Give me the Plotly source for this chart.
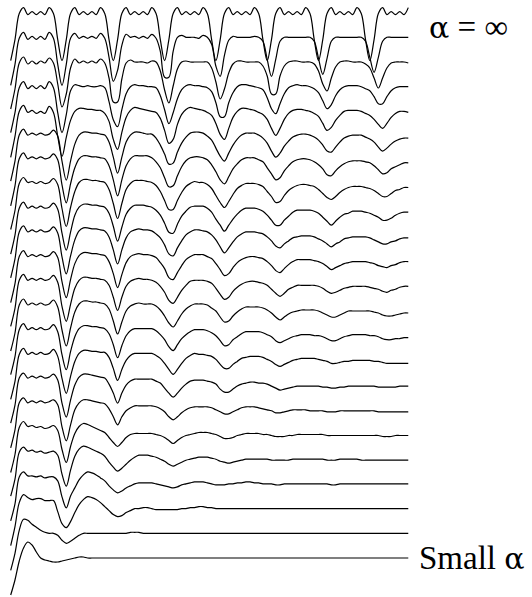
import plotly.graph_objects as go

# sample index: 12 samples per repetition period, 7.75 periods
sample_index = list(range(94))

# signal values (px-like units, positive = up) for each curve, top (alpha = inf) to bottom (small alpha)
curve_00 = [-46,-25,1,7,0,3,0,3,0,7,1,-25,
            -46,-25,1,7,0,3,0,3,0,7,1,-25,
            -46,-25,1,7,0,3,0,3,0,7,1,-25,
            -46,-25,1,7,0,3,0,3,0,7,1,-25,
            -46,-25,1,7,0,3,0,3,0,7,1,-25,
            -46,-25,1,7,0,3,0,3,0,7,1,-25,
            -46,-25,1,7,0,3,0,3,0,7,1,-25,
            -46,-25,1,7,0,3,0,3,0,7]
curve_01 = [-46,-25,1,7,0,3,0,3,0,7,1,-25,
            -46,-25,1,6,1,3,1,3,1,6,1,-18,
            -42,-31,-6,5,2,3,1,3,1,5,1,-12,
            -38,-38,-12,2,4,2,2,2,1,4,2,-5,
            -27,-37,-16,-1,3,2,2,2,2,3,2,-2,
            -20,-37,-20,-2,2,2,2,2,2,2,2,-2,
            -19,-35,-19,-2,2,2,2,2,2,2,2,-2,
            -18,-33,-18,-2,2,2,2,2,2,2]
curve_02 = [-45,-25,1,7,0,3,0,3,1,6,1,-20,
            -43,-30,-4,5,1,3,1,3,1,5,1,-14,
            -38,-38,-15,1,4,2,2,2,1,3,2,-7,
            -26,-39,-22,-5,2,3,2,2,2,2,2,-4,
            -18,-35,-25,-9,0,3,3,2,2,2,2,-2,
            -12,-30,-30,-12,-2,2,3,3,2,2,2,0,
            -7,-20,-27,-14,-3,2,3,3,2,2,2,0,
            -4,-14,-24,-14,-4,1,2,2,2,1]
curve_03 = [-44,-24,1,7,0,3,0,3,0,7,1,-24,
            -44,-26,-2,4,3,2,3,2,2,3,1,-13,
            -31,-38,-21,-5,2,4,3,3,2,2,1,-7,
            -21,-35,-24,-10,-1,3,4,3,3,2,1,-3,
            -14,-28,-28,-14,-4,2,4,4,3,2,1,-1,
            -9,-20,-25,-15,-5,1,3,4,3,3,2,0,
            -4,-12,-20,-16,-7,-1,2,3,3,3,2,0,
            -2,-8,-15,-15,-8,-2,1,2,2,2]
curve_04 = [-44,-23,2,8,1,3,0,2,0,7,1,-23,
            -43,-24,-7,2,5,5,4,4,3,3,0,-8,
            -26,-36,-19,-4,3,6,5,4,3,2,1,-5,
            -17,-30,-26,-11,-1,4,6,5,4,3,1,-2,
            -10,-21,-26,-15,-4,2,5,5,4,3,1,-1,
            -6,-15,-22,-15,-6,0,3,4,4,3,2,0,
            -3,-10,-17,-14,-7,-2,2,3,3,3,2,0,
            -2,-6,-11,-15,-10,-4,0,2,2,1]
curve_05 = [-43,-23,3,9,3,5,3,5,3,4,8,2,
            -23,-42,-23,-6,3,6,6,5,5,4,3,-4,
            -19,-35,-19,-4,3,6,6,5,4,4,0,-7,
            -16,-26,-25,-14,-5,1,5,6,6,5,2,-2,
            -10,-18,-23,-15,-7,-1,3,5,5,5,3,0,
            -5,-13,-19,-15,-8,-3,1,3,4,4,3,1,
            -2,-7,-13,-14,-9,-4,0,2,3,3,3,1,
            -1,-4,-9,-13,-10,-6,-3,-1,0,0]
curve_06 = [-43,-23,4,10,4,6,4,6,4,5,9,3,
            -22,-40,-21,-5,4,7,7,6,6,5,4,-3,
            -17,-33,-17,-3,4,7,7,7,7,5,1,-5,
            -15,-24,-23,-13,-4,2,5,6,6,5,3,-2,
            -9,-17,-21,-14,-6,-1,3,5,5,5,3,1,
            -5,-11,-17,-15,-8,-3,1,3,4,4,3,1,
            -2,-6,-12,-13,-8,-4,-1,1,2,2,2,1,
            0,-3,-7,-11,-10,-6,-4,-2,0,0]
curve_07 = [-42,-23,4,10,5,6,4,6,4,5,9,3,
            -21,-39,-20,-4,5,8,8,7,7,6,5,-2,
            -16,-31,-16,-2,4,7,7,7,6,5,2,-4,
            -13,-22,-22,-13,-5,1,4,6,5,5,3,-1,
            -8,-15,-20,-14,-7,-1,2,4,4,4,3,1,
            -4,-9,-15,-14,-8,-3,0,2,3,3,2,1,
            -2,-6,-10,-12,-9,-5,-2,0,1,1,1,0,
            -1,-3,-6,-9,-9,-6,-3,-2,0,0]
curve_08 = [-42,-23,4,10,4,6,4,6,4,5,9,3,
            -21,-38,-20,-3,5,8,8,7,7,6,5,-1,
            -14,-29,-15,-2,4,7,7,7,6,5,2,-3,
            -11,-20,-21,-12,-4,1,5,6,6,6,4,0,
            -7,-13,-19,-13,-7,-2,2,4,4,4,3,1,
            -3,-8,-13,-13,-8,-4,0,2,2,2,2,1,
            -1,-5,-9,-13,-9,-5,-2,-1,1,1,1,0,
            -1,-3,-5,-8,-8,-6,-3,-1,0,0]
curve_09 = [-41,-22,5,11,5,7,5,7,5,6,10,4,
            -20,-37,-19,-3,6,9,9,8,8,7,6,0,
            -13,-27,-13,-1,5,7,8,7,7,6,3,-1,
            -8,-17,-19,-11,-4,2,5,7,7,6,5,2,
            -3,-10,-16,-11,-5,0,3,5,5,5,4,3,
            0,-4,-9,-11,-7,-4,-1,0,1,1,1,0,
            -2,-4,-7,-10,-7,-5,-2,-1,0,0,0,0,
            -1,-3,-5,-7,-7,-5,-4,-2,-1,-1]
curve_10 = [-41,-22,5,11,5,7,5,7,5,6,10,4,
            -20,-36,-18,-2,6,9,9,8,8,7,6,0,
            -12,-26,-13,-1,5,7,8,7,7,6,4,-1,
            -7,-16,-18,-11,-4,2,5,7,7,7,5,3,
            -2,-8,-14,-12,-6,-1,2,4,5,5,4,3,
            0,-4,-9,-11,-7,-3,0,2,2,2,2,1,
            0,-2,-5,-8,-6,-4,-2,-1,0,0,0,0,
            -1,-2,-4,-5,-6,-4,-3,-1,0,0]
curve_11 = [-40,-22,6,12,6,8,6,8,6,7,11,4,
            -20,-35,-18,-2,6,9,9,8,8,7,6,1,
            -11,-24,-11,0,5,7,8,7,7,6,4,0,
            -6,-14,-17,-11,-4,1,5,6,6,6,5,3,
            -2,-8,-13,-11,-5,-1,2,4,5,5,4,3,
            1,-3,-7,-10,-7,-3,-1,1,1,1,1,1,
            0,-2,-5,-7,-6,-4,-2,-1,0,0,0,0,
            -1,-2,-3,-5,-6,-4,-3,-1,0,0]
curve_12 = [-40,-22,6,12,6,8,6,8,6,7,11,4,
            -19,-35,-17,-1,7,10,10,9,9,8,7,2,
            -10,-23,-11,0,5,7,8,7,7,7,5,1,
            -5,-12,-16,-10,-3,2,5,7,7,7,6,3,
            0,-6,-11,-10,-5,-1,2,4,4,4,4,3,
            1,-2,-6,-9,-6,-3,-1,0,1,1,1,1,
            0,-2,-4,-6,-6,-4,-2,0,0,0,0,0,
            0,-1,-2,-4,-5,-5,-4,-3,-2,-2]
curve_13 = [-39,-21,6,12,6,8,6,8,6,7,11,4,
            -19,-34,-16,-1,7,10,10,9,9,8,7,2,
            -9,-22,-10,0,5,7,7,7,7,7,5,1,
            -4,-11,-15,-9,-3,1,4,6,6,6,5,3,
            0,-5,-10,-9,-4,-1,2,4,4,4,4,3,
            1,-1,-5,-7,-5,-3,-1,0,1,1,1,0,
            0,-1,-3,-5,-5,-3,-1,0,1,1,1,1,
            0,0,-1,-3,-4,-4,-3,-3,-2,-2]
curve_14 = [-39,-21,6,12,6,8,6,8,6,7,11,4,
            -18,-33,-16,-1,7,10,10,9,9,8,8,3,
            -8,-20,-9,0,5,7,7,7,7,7,5,2,
            -3,-9,-14,-9,-3,2,5,7,6,6,5,4,
            1,-4,-8,-8,-4,-1,2,3,4,4,4,3,
            1,-1,-4,-6,-4,-2,0,1,2,2,2,2,
            1,0,-1,-3,-3,-2,-1,-1,0,0,0,0,
            0,-1,-1,-2,-3,-3,-3,-3,-3,-3]
curve_15 = [-38,-20,7,12,7,9,7,9,7,8,11,5,
            -18,-32,-15,0,8,11,11,10,9,8,7,1,
            -8,-18,-8,0,4,6,6,6,6,6,4,2,
            -3,-8,-12,-8,-3,1,4,5,5,5,4,3,
            1,-4,-7,-7,-4,-1,1,2,3,3,2,2,
            1,-1,-3,-5,-4,-3,-2,-1,-1,-1,-1,-1,
            -1,-2,-2,-3,-3,-2,-2,-1,-1,-1,-1,-1,
            -1,-1,-2,-2,-2,-2,-2,-1,-1,-1]
curve_16 = [-38,-20,7,12,7,9,7,9,7,8,10,5,
            -17,-31,-15,0,7,10,10,9,8,7,6,1,
            -7,-15,-7,-1,2,4,4,4,4,4,3,1,
            -2,-7,-10,-7,-3,0,2,3,3,3,3,2,
            0,-2,-4,-4,-2,0,2,3,3,3,2,1,
            0,-1,-3,-3,-2,-1,0,0,0,0,-1,-1,
            -1,-1,-2,-2,-2,-1,-1,-1,-1,-1,-1,-1,
            -1,-1,-2,-2,-2,-2,-2,-2,-2,-2]
curve_17 = [-38,-20,7,13,8,9,7,8,6,7,9,4,
            -15,-28,-12,1,8,11,10,8,6,4,2,-3,
            -8,-12,-8,-3,0,1,1,1,1,1,0,-1,
            -3,-6,-9,-6,-3,-1,0,1,2,2,2,1,
            0,-2,-4,-4,-3,-1,0,1,1,1,1,0,
            0,-1,-2,-2,-2,-1,-1,0,0,0,0,0,
            0,0,-1,-1,-1,-1,-1,-1,-1,-1,-1,-1,
            -1,-1,-1,-2,-2,-2,-1,-1,-1,-1]
curve_18 = [-37,-20,7,12,8,9,7,8,6,7,8,4,
            -15,-27,-11,3,10,13,12,10,8,6,3,-3,
            -8,-12,-9,-5,-1,2,4,4,4,3,2,0,
            -2,-5,-7,-5,-3,-1,0,1,2,2,2,1,
            0,-2,-3,-4,-3,-2,-1,0,0,0,0,0,
            0,-1,-1,-1,-1,-1,0,0,0,0,0,0,
            0,0,-1,-1,-1,0,0,0,0,0,-1,-1,
            -1,-1,-1,-1,-1,-1,-1,-1,-1,-1]
curve_19 = [-37,-20,7,12,8,8,7,8,6,7,7,3,
            -13,-24,-12,-4,4,9,12,11,9,6,3,-2,
            -6,-9,-7,-4,-2,0,1,1,1,1,0,-1,
            -2,-3,-4,-3,-1,0,1,2,2,2,1,0,
            -1,-1,-1,0,0,1,1,2,2,1,1,0,
            0,0,-1,-1,0,0,0,0,0,0,0,0,
            0,0,0,-1,-1,0,0,0,0,0,0,0,
            0,0,0,0,0,0,0,0,0,0]
curve_20 = [-37,-18,6,14,11,9,10,10,8,8,8,-3,
            -15,-19,-13,-4,4,9,12,11,9,6,2,-2,
            -6,-8,-7,-4,-2,0,0,1,1,0,-1,-1,
            -1,-1,-1,-1,0,0,1,1,2,2,1,1,
            0,0,0,0,0,0,0,0,0,0,0,0,
            0,0,0,0,0,0,0,0,0,0,0,0,
            0,0,0,0,0,0,0,0,0,0,0,0,
            0,0,0,0,0,0,0,0,0,0]
curve_21 = [-37,-20,3,14,13,9,6,3,1,0,0,-2,
            -7,-10,-8,-5,-2,0,0,0,0,0,0,0,
            0,0,0,0,1,1,1,0,0,0,0,0,
            0,0,0,0,0,0,0,0,0,0,0,0,
            0,0,0,0,0,0,0,0,0,0,0,0,
            0,0,0,0,0,0,0,0,0,0,0,0,
            0,0,0,0,0,0,0,0,0,0,0,0,
            0,0,0,0,0,0,0,0,0,0]
curve_22 = [-37,-22,-3,10,16,13,6,0,-2,-3,-4,-4,
            -3,-2,-1,0,1,1,0,0,0,0,0,0,
            0,0,0,0,0,0,0,0,0,0,0,0,
            0,0,0,0,0,0,0,0,0,0,0,0,
            0,0,0,0,0,0,0,0,0,0,0,0,
            0,0,0,0,0,0,0,0,0,0,0,0,
            0,0,0,0,0,0,0,0,0,0,0,0,
            0,0,0,0,0,0,0,0,0,0]

curves = [curve_00, curve_01, curve_02, curve_03, curve_04, curve_05, curve_06,
          curve_07, curve_08, curve_09, curve_10, curve_11, curve_12, curve_13,
          curve_14, curve_15, curve_16, curve_17, curve_18, curve_19, curve_20,
          curve_21, curve_22]

# label texts
alpha_sym = "α"
label_top_rest = " = ∞"
label_bottom_word = "Small "

# layout / style
W, H = 532, 597
curve_step = 24.7          # vertical offset between successive curves
bottom_offset = 39         # offset of the lowest curve
x_start_px, samples_px = 10.7, 51.3 / 12

bad = [i for i, c in enumerate(curves) if len(c) != len(sample_index)]
if bad:
    raise ValueError("length mismatch: %s" % [(i, len(curves[i])) for i in bad])

fig = go.Figure()
n = len(curves)
for k, vals in enumerate(curves):
    off = bottom_offset + curve_step * (n - 1 - k)
    fig.add_trace(go.Scatter(
        x=sample_index, y=[v + off for v in vals], mode="lines",
        line=dict(color="black", width=1.2, shape="spline", smoothing=1.0),
        hoverinfo="skip", showlegend=False))

alpha_span = '<span style="font-family:DejaVu Serif;font-size:30px">%s</span>' % alpha_sym
fig.add_annotation(text=alpha_span + label_top_rest, xref="paper", yref="paper",
                   x=427 / W, y=1 - 27 / H, xanchor="left", yanchor="middle",
                   showarrow=False,
                   font=dict(family="Liberation Serif", size=33, color="black"))
fig.add_annotation(text=label_bottom_word + alpha_span, xref="paper", yref="paper",
                   x=417 / W, y=1 - 558 / H, xanchor="left", yanchor="middle",
                   showarrow=False,
                   font=dict(family="Liberation Serif", size=33, color="black"))

fig.update_layout(
    width=W, height=H, autosize=False,
    margin=dict(l=0, r=0, t=0, b=0, pad=0),
    paper_bgcolor="white", plot_bgcolor="white",
    xaxis=dict(visible=False, range=[-x_start_px / samples_px, (W - x_start_px) / samples_px]),
    yaxis=dict(visible=False, range=[0, H]),
    showlegend=False,
)
fig.write_html("out.html", config={"displayModeBar": False})
